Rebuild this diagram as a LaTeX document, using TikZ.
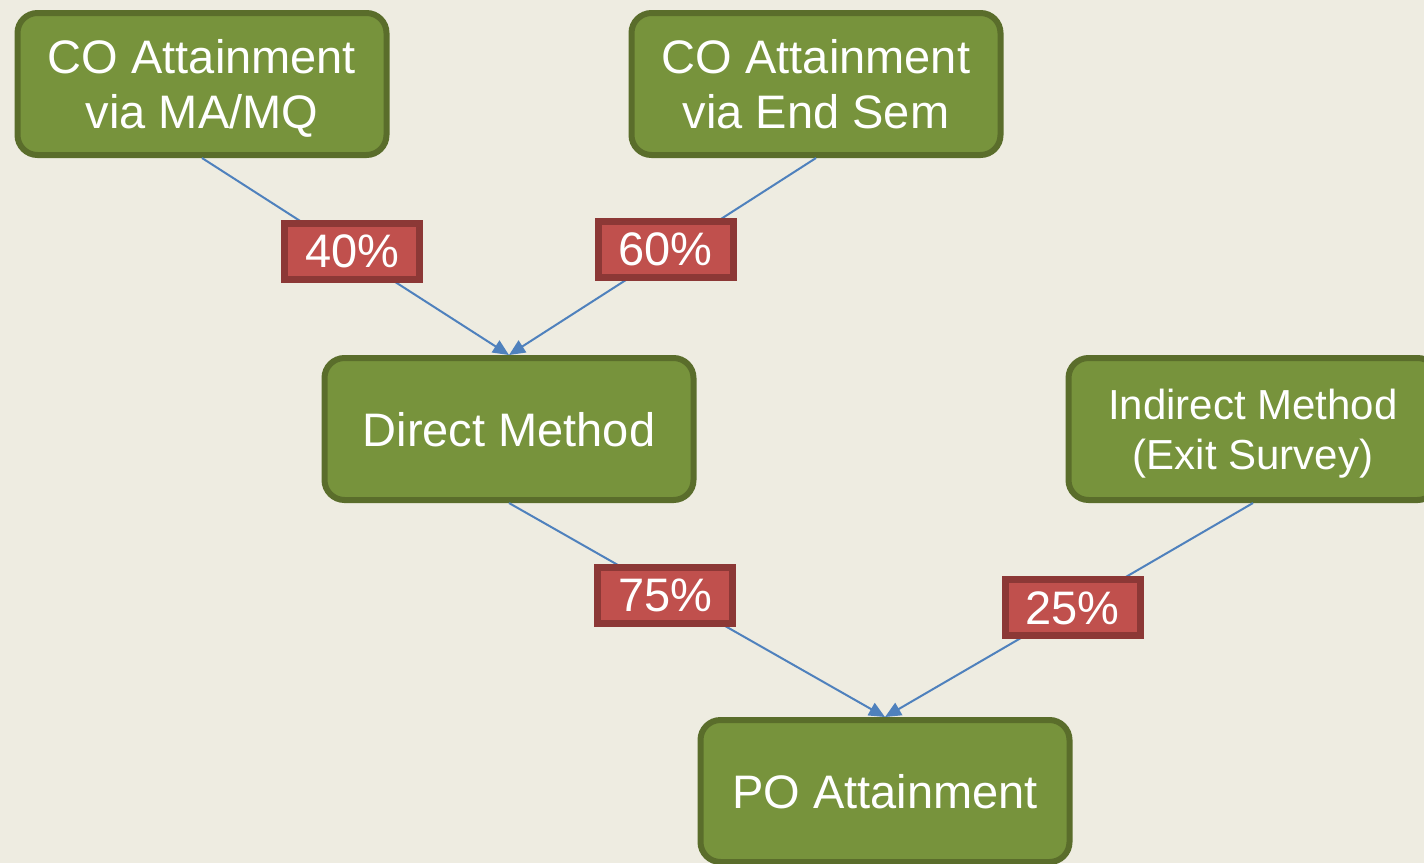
\documentclass[tikz,border=0pt]{standalone}
\usepackage{fontspec}
\setmainfont{Liberation Sans}
\usetikzlibrary{arrows.meta}
\definecolor{bgc}{HTML}{EEECE1}
\definecolor{gfill}{HTML}{77933C}
\definecolor{gline}{HTML}{5A6D2B}
\definecolor{rfill}{HTML}{C0504D}
\definecolor{rline}{HTML}{8C3836}
\definecolor{bline}{HTML}{4F81BD}
\tikzset{
  gbox/.style={draw=gline, fill=gfill, line width=6pt, rounded corners=20pt,
    minimum width=369pt, minimum height=142pt, text=white, align=center,
    font=\fontsize{47}{55}\selectfont, inner sep=0pt, text depth=0pt},
  pct/.style={draw=rline, fill=rfill, line width=7pt, minimum width=135pt,
    minimum height=56pt, text=white, font=\fontsize{47}{55}\selectfont, inner sep=0pt},
  conn/.style={draw=bline, line width=2pt, -{Triangle[length=16pt,width=14pt]}}
}
\begin{document}
\begin{tikzpicture}[x=1pt,y=-1pt]
\fill[bgc] (0,0) rectangle (1424,863);
\useasboundingbox (0,0) rectangle (1424,863);
\clip (0,0) rectangle (1424,863);
\node[gbox] (a) at (202,84) {CO Attainment\\via MA/MQ};
\node[gbox] (b) at (816,84) {CO Attainment\\via End Sem};
\node[gbox] (c) at (509,429) {Direct Method};
\node[gbox, font=\fontsize{42}{50}\selectfont] (d) at (1253,429) {Indirect Method\\(Exit Survey)};
\node[gbox] (e) at (885,791) {PO Attainment};
\draw[conn] (a.south) -- node[pct,pos=0.49,yshift=3pt]{40\%} (c.north);
\draw[conn] (b.south) -- node[pct,pos=0.49,yshift=5.5pt]{60\%} (c.north);
\draw[conn] (c.south) -- node[pct,pos=0.415,yshift=-4pt]{75\%} (e.north);
\draw[conn] (d.south) -- node[pct,pos=0.49]{25\%} (e.north);
\end{tikzpicture}
\end{document}
